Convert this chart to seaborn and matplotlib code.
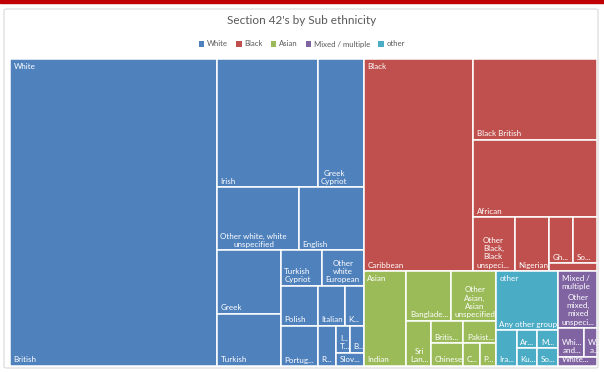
import matplotlib
matplotlib.use("Agg")
import matplotlib.pyplot as plt
from matplotlib.patches import Rectangle, FancyBboxPatch, Patch
import seaborn as sns

# ---------------------------------------------------------------- data
groups = ["White", "Black", "Asian", "Mixed / multiple", "other"]
group_headers = ["White", "Black", "Asian", "Mixed /\nmultiple", "other"]
group_colors = ["#4F81BD", "#C0504D", "#9BBB59", "#8064A2", "#4BACC6"]

white_labels = ["British", "Irish", "Greek\nCypriot", "Other white, white\nunspecified",
                "English", "Greek", "Turkish", "Turkish\nCypriot", "Other\nwhite\nEuropean",
                "Polish", "Portug...", "Italian", "K...", "R...", "I...\nT...", "B...", "Slov..."]
white_counts = [172, 35, 16, 14, 11, 11, 9, 4, 4, 4, 4, 3, 2, 2, 1, 1, 1]

black_labels = ["Caribbean", "Black British", "African", "Other\nBlack,\nBlack\nunspeci...",
                "Nigerian", "Gh...", "So...", ""]
black_counts = [63, 27, 26, 6, 5, 3, 3, 1]

asian_labels = ["Indian", "Banglade...", "Other\nAsian,\nAsian\nunspecified", "Sri\nLan...",
                "Britis...", "Chinese", "Pakist...", "C...", "P..."]
asian_counts = [11, 6, 6, 3, 2, 2, 2, 1, 1]

mixed_labels = ["Other\nmixed,\nmixed\nunspeci...", "Whi...\nand...", "W...\na...", "White..."]
mixed_counts = [6, 2, 1, 1]

other_labels = ["Any other group", "Ira...", "Ar...", "Ku...", "M...", "So..."]
other_counts = [10, 2, 1, 1, 1, 1]

# strip plans: (direction, number of tiles in the strip)
white_plan = [("col", 1), ("row", 2), ("row", 2), ("col", 2), ("row", 2),
              ("col", 2), ("row", 2), ("col", 1), ("row", 2), ("col", 1)]
black_plan = [("col", 1), ("row", 1), ("row", 1), ("col", 1), ("col", 1), ("row", 2), ("row", 1)]
asian_plan = [("col", 1), ("row", 2), ("col", 1), ("col", 2), ("row", 1), ("col", 1), ("col", 1)]
mixed_plan = [("row", 1), ("row", 2), ("row", 1)]
other_plan = [("row", 1), ("col", 1), ("col", 2), ("row", 1), ("row", 1)]
top_plan = [("col", 1), ("row", 1), ("col", 1), ("col", 1), ("col", 1)]


def strip_layout(values, box, plan):
    """Split box (x, y, w, h) into tiles with areas proportional to values."""
    x, y, w, h = box
    rest = float(sum(values))
    tiles, i = [], 0
    for direction, n in plan:
        chunk = values[i:i + n]
        s = float(sum(chunk))
        if direction == "col":
            cw = w * s / rest
            yy = y
            for v in chunk:
                ch = h * v / s
                tiles.append((x, yy, cw, ch))
                yy += ch
            x += cw
            w -= cw
        else:
            rh = h * s / rest
            xx = x
            for v in chunk:
                cw = w * v / s
                tiles.append((xx, y, cw, rh))
                xx += cw
            y += rh
            h -= rh
        rest -= s
        i += n
    return tiles


# ---------------------------------------------------------------- style
sns.set_theme(style="white")
plt.rcParams["font.family"] = ["Lato", "DejaVu Sans"]
palette = dict(zip(groups, sns.color_palette(group_colors)))

fig = plt.figure(figsize=(6.04, 3.72), dpi=100)
W, H = 604, 372

# page strip and chart frame
fig.patches.append(Rectangle((0, 1 - 3 / H), 1, 3 / H, transform=fig.transFigure,
                             color="#C00000", zorder=-2))
fig.patches.append(FancyBboxPatch((4 / W, 4 / H), 594 / W, 359 / H,
                                  boxstyle="round,pad=0,rounding_size=0.004",
                                  transform=fig.transFigure, facecolor="none",
                                  edgecolor="#D9D9D9", linewidth=0.8, zorder=-2))

ax = fig.add_axes([10 / W, 1 - 366 / H, 587 / W, 307 / H])
ax.set_xlim(0, 1)
ax.set_ylim(1, 0)
ax.axis("off")

children = {
    "White": (white_labels, white_counts, white_plan),
    "Black": (black_labels, black_counts, black_plan),
    "Asian": (asian_labels, asian_counts, asian_plan),
    "Mixed / multiple": (mixed_labels, mixed_counts, mixed_plan),
    "other": (other_labels, other_counts, other_plan),
}

# top level ordered by size
order = sorted(groups, key=lambda g: -sum(children[g][1]))
totals = [sum(children[g][1]) for g in order]
group_boxes = strip_layout(totals, (0, 0, 1, 1), top_plan)

label_kw = dict(color="white", fontsize=5.8, textcoords="offset pixels",
                ha="left", multialignment="center")

for g, box in zip(order, group_boxes):
    labels, counts, plan = children[g]
    color = palette[g]
    for lab, (x, y, w, h) in zip(labels, strip_layout(counts, box, plan)):
        ax.add_patch(Rectangle((x, y), w, h, facecolor=color, edgecolor="white",
                               linewidth=1.1))
        if lab:
            ax.annotate(lab, xy=(x, y + h), xytext=(3.5, 2.5), va="bottom", **label_kw)
    ax.annotate(group_headers[groups.index(g)], xy=(box[0], box[1]), xytext=(3.5, -4),
                va="top", **label_kw)

# title and legend
fig.text(0.5, 1 - 20 / H, "Section 42's by Sub ethnicity", ha="center", va="center",
         fontsize=8.5, color="#595959")
handles = [Patch(facecolor=palette[g], edgecolor="none", label=g) for g in groups]
fig.legend(handles=handles, loc="center", bbox_to_anchor=(0.5, 1 - 44 / H), ncol=5,
           frameon=False, fontsize=5.6, handlelength=0.7, handleheight=0.7,
           handletextpad=0.4, columnspacing=1.0, labelcolor="#595959")

fig.savefig("out.png", dpi=100)
